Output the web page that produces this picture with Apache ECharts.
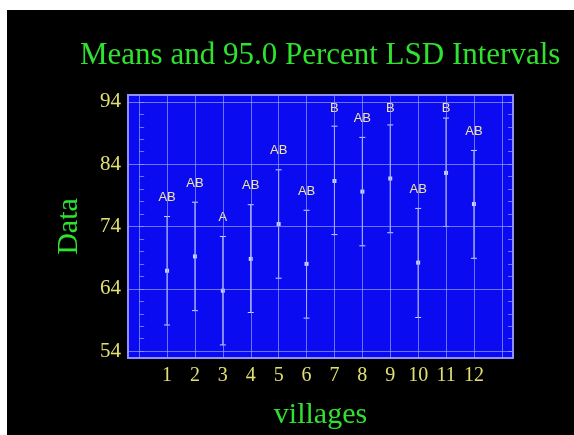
<!DOCTYPE html>
<html>
<head>
<meta charset="utf-8">
<title>Means and 95.0 Percent LSD Intervals</title>
<script src="https://cdn.jsdelivr.net/npm/echarts@6/dist/echarts.min.js"></script>
<style>
  html, body { margin: 0; padding: 0; background: #ffffff; }
  #chart { position: absolute; left: 7px; top: 10px; width: 567px; height: 425px; }
</style>
</head>
<body>
<div id="chart"></div>
<script>
// villages on the x axis
const villages = [1, 2, 3, 4, 5, 6, 7, 8, 9, 10, 11, 12];
// means with the 95% LSD interval bounds
const means = [66.9, 69.2, 63.7, 68.8, 74.4, 68.0, 81.3, 79.6, 81.7, 68.2, 82.6, 77.6];
const lower = [58.2, 60.5, 55.0, 60.2, 65.7, 59.3, 72.7, 70.9, 73.0, 59.4, 74.0, 68.9];
const upper = [75.6, 77.9, 72.4, 77.5, 83.1, 76.6, 90.1, 88.3, 90.3, 76.9, 91.4, 86.2];
// homogeneous groups
const groups = ['AB', 'AB', 'A', 'AB', 'AB', 'AB', 'B', 'AB', 'B', 'AB', 'B', 'AB'];

// axis ticks
const yLabels = [54, 64, 74, 84, 94];
const yMinor = [54, 56, 58, 60, 62, 64, 66, 68, 70, 72, 74, 76, 78, 80, 82, 84, 86, 88, 90, 92, 94];
const xGrid = [0, 1, 2, 3, 4, 5, 6, 7, 8, 9, 10, 11, 12, 13];

const green = '#2fe22f';
const yellow = '#e2e070';
const barColor = '#cdd4ff';
const gridColor = 'rgba(150,160,255,0.7)';

const chart = echarts.init(document.getElementById('chart'));

const seriesData = villages.map((v, i) => [v, lower[i], means[i], upper[i], groups[i]]);

function renderInterval(params, api) {
  const x = api.value(0);
  const lo = api.coord([x, api.value(1)]);
  const mid = api.coord([x, api.value(2)]);
  const hi = api.coord([x, api.value(3)]);
  const top = params.coordSys.y;
  const cap = 3;
  const lineStyle = { stroke: barColor, lineWidth: 1 };
  const labelY = Math.max(hi[1] - 19, top + 13);
  return {
    type: 'group',
    children: [
      { type: 'line', shape: { x1: hi[0], y1: hi[1], x2: lo[0], y2: lo[1] }, style: lineStyle },
      { type: 'line', shape: { x1: hi[0] - cap, y1: hi[1], x2: hi[0] + cap, y2: hi[1] }, style: lineStyle },
      { type: 'line', shape: { x1: lo[0] - cap, y1: lo[1], x2: lo[0] + cap, y2: lo[1] }, style: lineStyle },
      { type: 'rect', shape: { x: mid[0] - 2, y: mid[1] - 2, width: 4, height: 4 }, style: { fill: '#c8d0ff' } },
      {
        type: 'text',
        style: {
          text: api.value(4),
          x: hi[0],
          y: labelY,
          fill: '#f0e6aa',
          font: '13px "Liberation Sans", Arial, sans-serif',
          align: 'center',
          verticalAlign: 'middle'
        }
      }
    ]
  };
}

const option = {
  backgroundColor: '#000000',
  animation: false,
  title: {
    text: 'Means and 95.0 Percent LSD Intervals',
    left: 73,
    top: 30,
    padding: 0,
    textStyle: {
      color: green,
      fontFamily: '"Liberation Serif", "Times New Roman", serif',
      fontSize: 31,
      fontWeight: 'normal'
    }
  },
  grid: {
    left: 121,
    top: 85,
    width: 385,
    height: 265,
    show: true,
    backgroundColor: '#0b0bf2',
    borderColor: '#8f8fff',
    borderWidth: 2
  },
  xAxis: {
    type: 'value',
    min: -0.4,
    max: 13.4,
    name: 'villages',
    nameLocation: 'middle',
    nameGap: 42,
    nameTextStyle: {
      color: green,
      fontFamily: '"Liberation Serif", "Times New Roman", serif',
      fontSize: 30
    },
    axisLine: { show: false },
    axisTick: { show: false },
    splitLine: { show: false },
    axisLabel: {
      customValues: villages,
      color: yellow,
      fontFamily: '"Liberation Serif", "Times New Roman", serif',
      fontSize: 20,
      margin: 8
    }
  },
  yAxis: [
    {
      type: 'value',
      min: 52.9,
      max: 95.1,
      name: 'Data',
      nameLocation: 'middle',
      nameRotate: 90,
      nameGap: 44,
      nameTextStyle: {
        color: green,
        fontFamily: '"Liberation Serif", "Times New Roman", serif',
        fontSize: 30
      },
      axisLine: { show: false },
      axisTick: { show: true, inside: true, length: 5, customValues: yMinor, lineStyle: { color: gridColor } },
      splitLine: { show: false },
      axisLabel: {
        customValues: yLabels,
        color: yellow,
        fontFamily: '"Liberation Serif", "Times New Roman", serif',
        fontSize: 21,
        margin: 7
      }
    },
    {
      type: 'value',
      position: 'right',
      min: 52.9,
      max: 95.1,
      axisLine: { show: false },
      axisTick: { show: true, inside: true, length: 5, customValues: yMinor, lineStyle: { color: gridColor } },
      splitLine: { show: false },
      axisLabel: { show: false }
    }
  ],
  series: [
    {
      type: 'custom',
      renderItem: renderInterval,
      data: seriesData,
      encode: { x: 0, y: [1, 2, 3] },
      clip: false,
      silent: true,
      markLine: {
        silent: true,
        symbol: 'none',
        label: { show: false },
        lineStyle: { color: gridColor, width: 1, type: 'solid' },
        data: yLabels.map(v => ({ yAxis: v })).concat(xGrid.map(v => ({ xAxis: v })))
      }
    }
  ]
};

chart.setOption(option);
</script>
</body>
</html>
